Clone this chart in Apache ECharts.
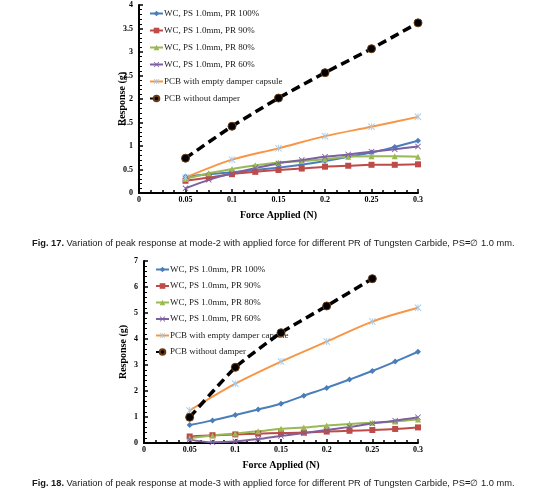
<!DOCTYPE html>
<html>
<head>
<meta charset="utf-8">
<script src="https://cdn.jsdelivr.net/npm/echarts@6/dist/echarts.min.js"></script>
<style>
  html, body { margin: 0; padding: 0; background: #fff; }
  #main { width: 548px; height: 496px; }
</style>
</head>
<body>
<div id="main"></div>
<script>
// force steps (N)
const forceFine = [0.05, 0.075, 0.1, 0.125, 0.15, 0.175, 0.2, 0.225, 0.25, 0.275, 0.3];
const forceCoarse = [0.05, 0.1, 0.15, 0.2, 0.25, 0.3];
const forceNone3 = [0.05, 0.1, 0.15, 0.2, 0.25];

const seriesNames = [
  'WC, PS 1.0mm, PR 100%',
  'WC, PS 1.0mm, PR 90%',
  'WC, PS 1.0mm, PR 80%',
  'WC, PS 1.0mm, PR 60%',
  'PCB with empty damper capsule',
  'PCB without damper'
];

// Fig. 17 - mode 2
const m2Pr100 = [0.35, 0.40, 0.44, 0.49, 0.54, 0.60, 0.68, 0.77, 0.86, 0.98, 1.11];
const m2Pr90 = [0.26, 0.33, 0.40, 0.45, 0.49, 0.52, 0.56, 0.58, 0.60, 0.60, 0.61];
const m2Pr80 = [0.30, 0.42, 0.51, 0.59, 0.65, 0.68, 0.72, 0.77, 0.78, 0.78, 0.77];
const m2Pr60 = [0.10, 0.28, 0.42, 0.53, 0.63, 0.70, 0.77, 0.82, 0.88, 0.93, 0.99];
const m2Empty = [0.33, 0.71, 0.95, 1.21, 1.41, 1.62];
const m2None = [0.74, 1.42, 2.02, 2.56, 3.07, 3.62];

// Fig. 18 - mode 3
const m3Pr100 = [0.69, 0.87, 1.08, 1.29, 1.51, 1.82, 2.12, 2.44, 2.77, 3.13, 3.51];
const m3Pr90 = [0.25, 0.30, 0.33, 0.36, 0.38, 0.40, 0.44, 0.47, 0.50, 0.54, 0.60];
const m3Pr80 = [0.19, 0.29, 0.37, 0.45, 0.55, 0.60, 0.67, 0.73, 0.78, 0.83, 0.90];
const m3Pr60 = [0.13, 0.03, 0.06, 0.15, 0.27, 0.38, 0.50, 0.62, 0.75, 0.86, 0.99];
const m3Empty = [1.25, 2.28, 3.13, 3.90, 4.67, 5.20];
const m3None = [0.99, 2.91, 4.24, 5.27, 6.32];

const serif = 'Liberation Serif';
const xMark = 'M1,0 L5,4 L9,0 L10,1 L6,5 L10,9 L9,10 L5,6 L1,10 L0,9 L4,5 L0,1 Z';
const starMark = xMark + ' M4.4,0 L5.6,0 L5.6,10 L4.4,10 Z';

const styles = [
  { color: '#4a7ebb', symbol: 'diamond', symbolSize: 6 },
  { color: '#be4b48', symbol: 'rect', symbolSize: 6 },
  { color: '#98b954', symbol: 'triangle', symbolSize: 6 },
  { color: '#7d60a0', symbol: 'path://' + xMark, symbolSize: 6 },
  { color: '#f79646', symbol: 'path://' + starMark, symbolSize: 7, markColor: '#a6cbe8' },
  { color: '#000', symbol: 'circle', symbolSize: 8, dashed: true }
];

function pairs (xs, ys) {
  return ys.map((y, i) => [xs[i], y])
}

function makeSeries (idx, styleIdx, xs, ys) {
  const s = styles[styleIdx];
  return {
    type: 'line',
    name: seriesNames[styleIdx],
    xAxisIndex: idx,
    yAxisIndex: idx,
    data: pairs(xs, ys),
    smooth: s.dashed ? 0.15 : 0.3,
    symbol: s.symbol,
    symbolSize: s.symbolSize,
    showSymbol: true,
    clip: true,
    z: s.dashed ? 5 : 3,
    lineStyle: {
      color: s.color,
      width: s.dashed ? 3.5 : 2,
      type: s.dashed ? [9, 5] : 'solid'
    },
    itemStyle: {
      color: s.markColor || s.color,
      borderColor: s.dashed ? '#6b3a10' : (s.markColor || s.color),
      borderWidth: s.dashed ? 1 : 0
    },
    emphasis: { disabled: true }
  }
}

function xAxisCfg (idx, nameGap) {
  return {
    type: 'value',
    gridIndex: idx,
    min: 0,
    max: 0.3,
    interval: 0.05,
    name: 'Force Applied (N)',
    nameLocation: 'middle',
    nameGap: nameGap,
    nameTextStyle: { fontFamily: serif, fontWeight: 'bold', fontSize: 10, color: '#000' },
    axisLine: { lineStyle: { color: '#000', width: 2 } },
    axisTick: { inside: true, length: 4, lineStyle: { color: '#000', width: 1.5 } },
    minorTick: { show: true, splitNumber: 4, length: 3, lineStyle: { color: '#000', width: 1.5 } },
    axisLabel: { fontFamily: serif, fontWeight: 'bold', fontSize: 8, color: '#000', margin: 3 },
    splitLine: { show: false }
  }
}

function yAxisCfg (idx, max, interval, nameGap) {
  return {
    type: 'value',
    gridIndex: idx,
    min: 0,
    max: max,
    interval: interval,
    name: 'Response (g)',
    nameLocation: 'middle',
    nameGap: nameGap,
    nameMoveOverlap: false,
    nameTextStyle: { fontFamily: serif, fontWeight: 'bold', fontSize: 10, color: '#000' },
    axisLine: { lineStyle: { color: '#000', width: 2 } },
    axisTick: { inside: true, length: 4, lineStyle: { color: '#000', width: 1.5 } },
    minorTick: { show: true, splitNumber: 5, length: 3, lineStyle: { color: '#000', width: 1 } },
    axisLabel: { fontFamily: serif, fontWeight: 'bold', fontSize: 8, color: '#000', margin: 6 },
    splitLine: { show: false }
  }
}

function legendCfg (left, top, gap) {
  return {
    orient: 'vertical',
    left: left,
    top: top,
    padding: 0,
    itemWidth: 13,
    itemHeight: 7,
    itemGap: gap,
    selectedMode: false,
    data: seriesNames,
    textStyle: { fontFamily: serif, fontSize: 9, color: '#222', padding: [0, 0, 0, -4] }
  }
}

const captionRich = { b: { fontWeight: 'bold', fontFamily: 'Liberation Sans', fontSize: 9.3, fill: '#1a1a1a' } };

const chart = echarts.init(document.getElementById('main'));
chart.setOption({
  backgroundColor: '#fff',
  animation: false,
  grid: [
    { left: 139, top: 5, width: 279, height: 188 },
    { left: 144, top: 261, width: 274, height: 182 }
  ],
  xAxis: [xAxisCfg(0, 17), xAxisCfg(1, 17)],
  yAxis: [yAxisCfg(0, 4, 0.5, 12), yAxisCfg(1, 7, 1, 16)],
  legend: [legendCfg(149, 9, 8), legendCfg(155, 265, 7.5)],
  series: [
    makeSeries(0, 0, forceFine, m2Pr100),
    makeSeries(0, 1, forceFine, m2Pr90),
    makeSeries(0, 2, forceFine, m2Pr80),
    makeSeries(0, 3, forceFine, m2Pr60),
    makeSeries(0, 4, forceCoarse, m2Empty),
    makeSeries(0, 5, forceCoarse, m2None),
    makeSeries(1, 0, forceFine, m3Pr100),
    makeSeries(1, 1, forceFine, m3Pr90),
    makeSeries(1, 2, forceFine, m3Pr80),
    makeSeries(1, 3, forceFine, m3Pr60),
    makeSeries(1, 4, forceCoarse, m3Empty),
    makeSeries(1, 5, forceNone3, m3None)
  ],
  graphic: [
    {
      type: 'text',
      left: 32,
      top: 239,
      style: {
        text: '{b|Fig. 17.} Variation of peak response at mode-2 with applied force for different PR of Tungsten Carbide, PS{b|=}\u2205 1.0 mm.',
        rich: captionRich,
        fontFamily: 'Liberation Sans',
        fontSize: 9.3,
        fill: '#1a1a1a'
      }
    },
    {
      type: 'text',
      left: 32,
      top: 479,
      style: {
        text: '{b|Fig. 18.} Variation of peak response at mode-3 with applied force for different PR of Tungsten Carbide, PS{b|=}\u2205 1.0 mm.',
        rich: captionRich,
        fontFamily: 'Liberation Sans',
        fontSize: 9.3,
        fill: '#1a1a1a'
      }
    }
  ]
});
</script>
</body>
</html>
